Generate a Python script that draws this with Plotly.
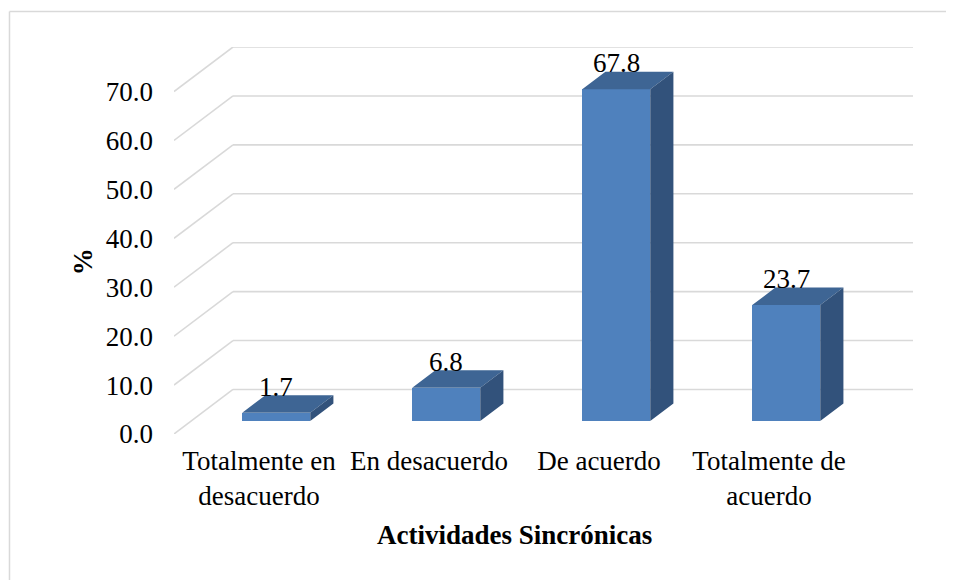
import plotly.graph_objects as go

# ---- data ----
categories = ["Totalmente en<br>desacuerdo", "En desacuerdo", "De acuerdo", "Totalmente de<br>acuerdo"]
values = [1.7, 6.8, 67.8, 23.7]
value_labels = ["1.7", "6.8", "67.8", "23.7"]
y_ticks = [0, 10, 20, 30, 40, 50, 60, 70]
y_tick_labels = ["0.0", "10.0", "20.0", "30.0", "40.0", "50.0", "60.0", "70.0"]
x_title = "Actividades Sincrónicas"
y_title = "%"

# ---- oblique projection parameters (depth offsets in data units) ----
KX = 0.347      # horizontal shift of the back wall, in category units
KY = 9.10       # vertical shift of the back wall, in value units
D1, D2 = 0.292, 0.685   # bar front / back depth fractions
BW = 0.40       # bar width in category units

FRONT = "#4F81BD"
TOP = "#3E6594"
SIDE = "#32527B"
GRID = "#D9D9D9"
FONT = "Liberation Serif, Times New Roman, serif"
FS = 27

n = len(categories)
centers = [i + 0.5 for i in range(n)]

fig = go.Figure()

# gridlines (below the bars): diagonal from front to back + horizontal on back wall
for v in y_ticks:
    fig.add_shape(type="line", xref="x", yref="y", x0=0, y0=v, x1=KX, y1=v + KY,
                  line=dict(color=GRID, width=1.6), layer="below")
    fig.add_shape(type="line", xref="x", yref="y", x0=KX, y0=v + KY, x1=n + KX, y1=v + KY,
                  line=dict(color=GRID, width=1.6), layer="below")

# front faces as bars
fig.add_trace(go.Bar(x=[c + D1 * KX for c in centers], y=values, base=[D1 * KY] * n,
                     width=BW, marker=dict(color=FRONT, line=dict(width=0)),
                     hoverinfo="skip", showlegend=False))

# top and side faces
tx, ty, sx, sy = [], [], [], []
for c, v in zip(centers, values):
    xl, xr = c - BW / 2, c + BW / 2
    tx += [xl + D1 * KX, xr + D1 * KX, xr + D2 * KX, xl + D2 * KX, xl + D1 * KX, None]
    ty += [v + D1 * KY, v + D1 * KY, v + D2 * KY, v + D2 * KY, v + D1 * KY, None]
    sx += [xr + D1 * KX, xr + D2 * KX, xr + D2 * KX, xr + D1 * KX, xr + D1 * KX, None]
    sy += [D1 * KY, D2 * KY, v + D2 * KY, v + D1 * KY, D1 * KY, None]
fig.add_trace(go.Scatter(x=tx, y=ty, mode="lines", fill="toself", fillcolor=TOP,
                         line=dict(width=0, color=TOP), hoverinfo="skip", showlegend=False))
fig.add_trace(go.Scatter(x=sx, y=sy, mode="lines", fill="toself", fillcolor=SIDE,
                         line=dict(width=0, color=SIDE), hoverinfo="skip", showlegend=False))

# data labels
for c, v, t in zip(centers, values, value_labels):
    fig.add_annotation(x=c + D1 * KX, y=v + D1 * KY, text=t, showarrow=False,
                       xanchor="center", yanchor="middle", yshift=26,
                       font=dict(family=FONT, size=FS, color="black"))

# axis titles
fig.add_annotation(x=2, xref="x", y=-0.262, yref="paper", text="<b>" + x_title + "</b>",
                   xanchor="center", yanchor="middle",
                   showarrow=False, font=dict(family=FONT, size=FS, color="black"))
fig.add_annotation(x=-0.1231, xref="paper", y=0.444, yref="paper", text="<b>" + y_title + "</b>",
                   xanchor="center", yanchor="middle",
                   textangle=-90, showarrow=False, font=dict(family=FONT, size=FS, color="black"))

# outer chart border (left and top edges visible)
fig.add_shape(type="line", xref="paper", yref="paper", x0=-0.2226, x1=-0.2226, y0=1.0917, y1=-0.45,
              line=dict(color="#D9D9D9", width=1.5))
fig.add_shape(type="line", xref="paper", yref="paper", x0=-0.2226, x1=1.1, y0=1.0917, y1=1.0917,
              line=dict(color="#D9D9D9", width=1.5))

fig.update_layout(
    width=954, height=580,
    margin=dict(l=166, r=49, t=39, b=154),
    paper_bgcolor="white", plot_bgcolor="white",
    showlegend=False, bargap=0,
    font=dict(family=FONT, size=FS, color="black"),
    xaxis=dict(range=[0, n + KX], tickmode="array", tickvals=centers, ticktext=categories,
               showgrid=False, zeroline=False, showline=False, ticks="",
               ticklabelstandoff=8, tickfont=dict(family=FONT, size=FS, color="black"),
               fixedrange=True),
    yaxis=dict(range=[0, 70 + KY], tickmode="array", tickvals=y_ticks, ticktext=y_tick_labels,
               showgrid=False, zeroline=False, showline=False, ticks="",
               ticklabelstandoff=20, tickfont=dict(family=FONT, size=FS, color="black"),
               fixedrange=True),
)

fig.write_html("out.html")
